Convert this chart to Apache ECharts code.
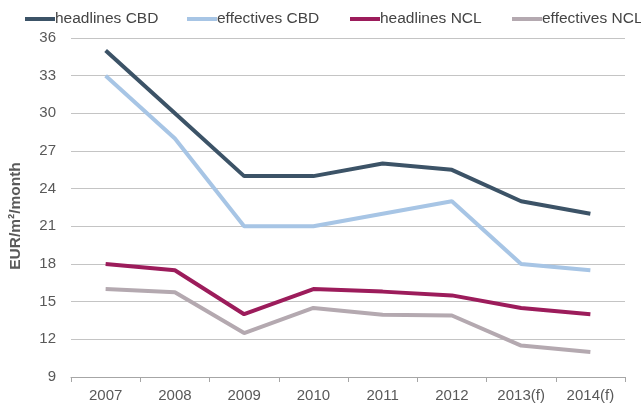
<!DOCTYPE html>
<html>
<head>
<meta charset="utf-8">
<script src="https://cdn.jsdelivr.net/npm/echarts@6/dist/echarts.min.js"></script>
<style>body{margin:0;background:#fff}</style>
</head>
<body>
<div id="main" style="width:641px;height:405px"></div>
<script>
// categories and series values
const years = ['2007', '2008', '2009', '2010', '2011', '2012', '2013(f)', '2014(f)'];
const headlinesCBD = [35, 30, 25, 25, 26, 25.5, 23, 22];
const effectivesCBD = [33, 28, 21, 21, 22, 23, 18, 17.5];
const headlinesNCL = [18, 17.5, 14, 16, 15.8, 15.5, 14.5, 14];
const effectivesNCL = [16, 15.75, 12.5, 14.5, 13.95, 13.9, 11.5, 11];

const names = ['headlines CBD', 'effectives CBD', 'headlines NCL', 'effectives NCL'];
const colors = ['#3c5367', '#a7c5e5', '#9c1c5b', '#b4a9b0'];
const values = [headlinesCBD, effectivesCBD, headlinesNCL, effectivesNCL];
const legendLeft = [25, 187, 350, 512];

const font = 'Liberation Sans, Arial, sans-serif';

var option = {
    backgroundColor: '#fff',
    textStyle: {fontFamily: font},
    legend: names.map(function (n, i) {
        return {
            data: [n],
            left: legendLeft[i],
            top: 11,
            padding: 0,
            icon: 'rect',
            itemWidth: 30,
            itemHeight: 4,
            itemGap: 0,
            textStyle: {color: '#444', fontSize: 15.5, fontFamily: font, padding: [0, 0, 0, -5]}
        };
    }),
    grid: {left: 65, right: 16, top: 38, bottom: 28},
    xAxis: {
        type: 'category',
        data: years,
        boundaryGap: true,
        axisLine: {lineStyle: {color: '#a6a6a6'}},
        axisTick: {show: true, length: 5, lineStyle: {color: '#a6a6a6'}},
        axisLabel: {color: '#595959', fontSize: 15, margin: 11, fontFamily: font}
    },
    yAxis: {
        type: 'value',
        min: 9,
        max: 36,
        interval: 3,
        name: 'EUR/m²/month',
        nameLocation: 'middle',
        nameGap: 47,
        nameTextStyle: {color: '#595959', fontSize: 15.5, fontWeight: 'bold', fontFamily: font,
            padding: [0, 17, 0, 0]},
        axisLine: {show: false},
        axisTick: {show: false},
        axisLabel: {color: '#595959', fontSize: 15, margin: 15, fontFamily: font},
        splitLine: {lineStyle: {color: '#c4c4c4', width: 1}}
    },
    series: names.map(function (n, i) {
        return {
            name: n,
            type: 'line',
            data: values[i],
            symbol: 'none',
            color: colors[i],
            lineStyle: {width: 4, color: colors[i]},
            animation: false
        };
    })
};

var myChart = echarts.init(document.getElementById('main'));
myChart.setOption(option);
</script>
</body>
</html>
